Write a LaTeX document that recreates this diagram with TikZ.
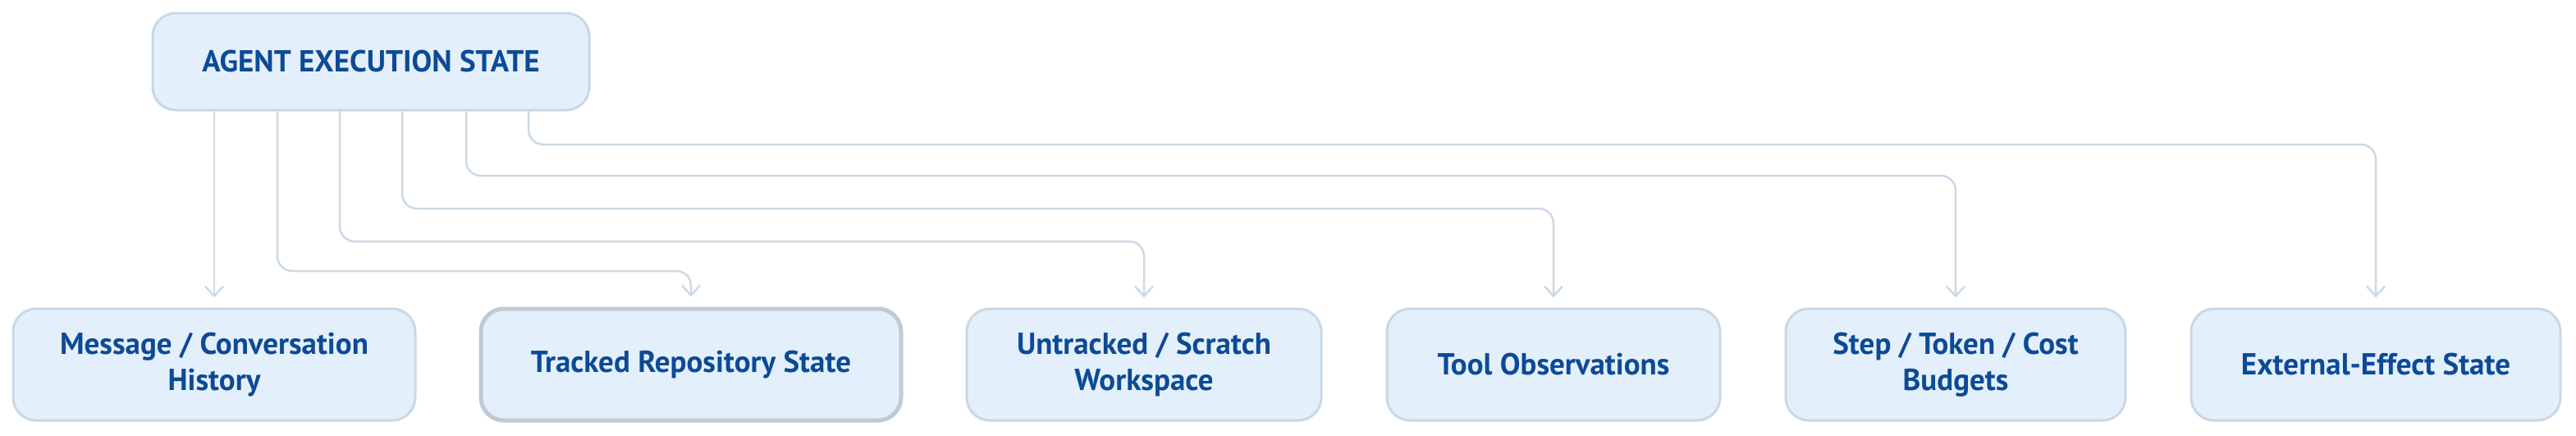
\documentclass[tikz,border=0pt]{standalone}
\usepackage{fontspec}
\setmainfont{PT Sans}
\definecolor{boxfill}{HTML}{E3F0FC}
\definecolor{boxline}{HTML}{C9D8E6}
\definecolor{labeltext}{HTML}{0D4A96}
\definecolor{wire}{HTML}{CCD9E5}
\tikzset{
  state/.style={draw=boxline, line width=3pt, fill=boxfill, rounded corners=28pt,
    text=labeltext, font=\fontsize{37}{44}\selectfont\bfseries, align=center,
    minimum height=136pt, inner sep=0pt},
  link/.style={draw=wire, line width=2.5pt, rounded corners=18pt, -{Straight Barb[length=12pt,width=22pt]}}
}
\usetikzlibrary{arrows.meta}
\begin{document}
\begin{tikzpicture}[x=2pt,y=-2pt]
  \useasboundingbox (0,0) rectangle (1569.5,265);
  \node[state, minimum width=532pt, minimum height=118pt] (root) at (226,37.5) {AGENT EXECUTION STATE};

  \node[state, minimum width=490pt] (msg) at (130.5,222) {Message / Conversation\\History};
  \node[state, minimum width=512pt, draw=boxline!85!gray, line width=5pt] (repo) at (421,222) {Tracked Repository State};
  \node[state, minimum width=432pt] (scratch) at (697,222) {Untracked / Scratch\\Workspace};
  \node[state, minimum width=406pt] (obs) at (946.5,222) {Tool Observations};
  \node[state, minimum width=414pt] (budget) at (1191.5,222) {Step / Token / Cost\\Budgets};
  \node[state, minimum width=450pt] (effect) at (1447.5,222) {External-Effect State};

  % fan-out from the root
  \draw[link] (root.south -| msg.north) -- ([yshift=12pt]msg.north);
  \draw[link] (169,67) |- (repo.north |- 0,165) -- ([yshift=12pt]repo.north);
  \draw[link] (207,67) |- (scratch.north |- 0,147) -- ([yshift=12pt]scratch.north);
  \draw[link] (245,67) |- (obs.north |- 0,127) -- ([yshift=12pt]obs.north);
  \draw[link] (284,67) |- (budget.north |- 0,107) -- ([yshift=12pt]budget.north);
  \draw[link] (322,67) |- (effect.north |- 0,88) -- ([yshift=12pt]effect.north);
\end{tikzpicture}
\end{document}
